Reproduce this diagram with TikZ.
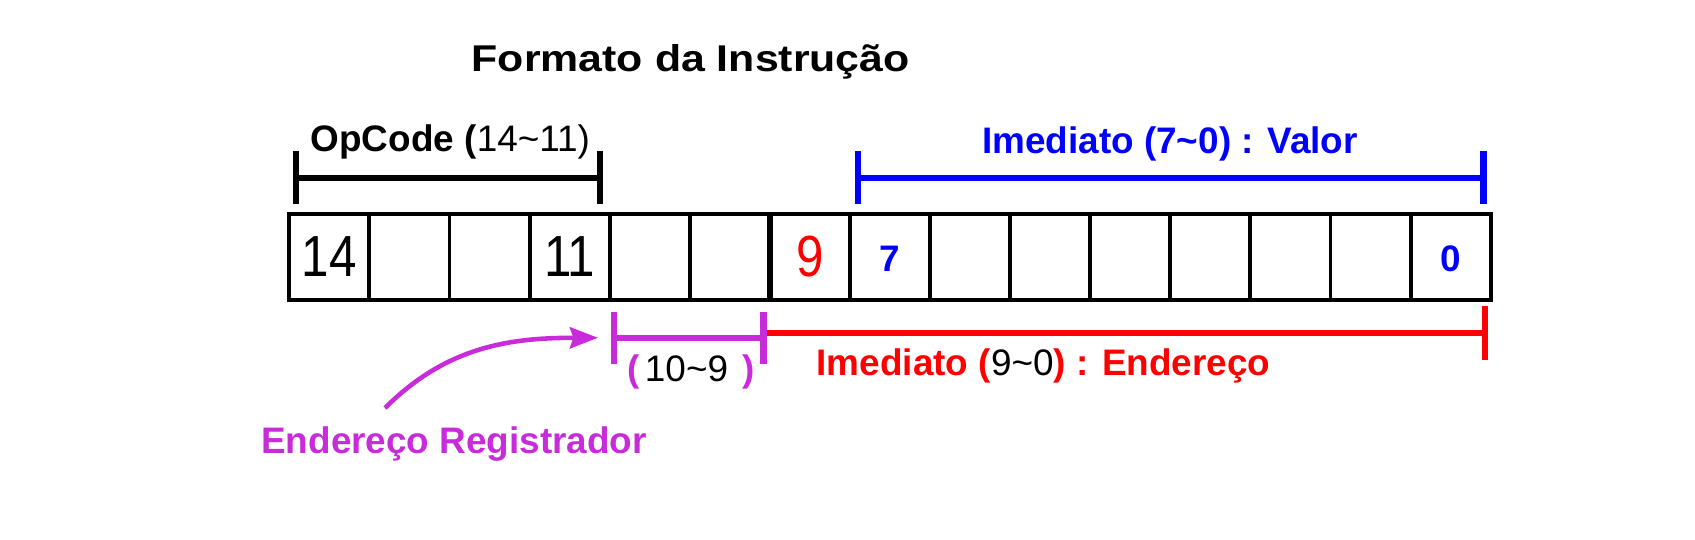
\documentclass[tikz,border=0pt]{standalone}
\usepackage{fontspec}
\setmainfont{Liberation Sans}
\newfontfamily\widesans[FakeStretch=1.15]{Liberation Sans}
\newfontfamily\narrowsans[FakeStretch=0.85]{Liberation Sans}
\usetikzlibrary{arrows.meta,positioning}
\definecolor{regmag}{RGB}{200,44,218}

\tikzset{
  bitcell/.style={draw, line width=1.1pt, minimum width=8.009mm, minimum height=8.6mm, inner sep=0pt, outer sep=0pt},
  bignum/.style={font=\narrowsans\fontsize{16.5}{18}\selectfont, inner sep=0pt},
  smallnum/.style={font=\bfseries\fontsize{10.5}{12}\selectfont, text=blue, inner sep=0pt},
  lbl/.style={font=\bfseries\fontsize{10.5}{12}\selectfont, inner sep=0pt},
  span/.style={line width=1.8pt, {Bar[width=#1]}-{Bar[width=#1]}},
  span/.default=5.3mm,
}

\begin{document}
\begin{tikzpicture}
\useasboundingbox (0,0) rectangle (16.95,5.39);

% title
\node[font=\widesans\bfseries\fontsize{10.6}{12}\selectfont, anchor=base, inner sep=0pt] (title) at (6.908,4.68) {Formato da Instrução};

% instruction word, 15 cells
\foreach \i in {1,...,15}
  \node[bitcell] (c\i) at ({2.893+(\i-0.5)*0.8009},2.82) {};
\draw[line width=1.6pt] (c6.north east) -- (c6.south east);

\node[bignum] (b14) at (c1) {14};
\node[bignum] (b11) at (c4) {11};
\node[bignum, text=red] (b9) at (c7) {9};
\node[smallnum] (b7) at ([yshift=-0.2mm]c8) {7};
\node[smallnum] (b0) at ([yshift=-0.2mm]c15) {0};

% spans
\coordinate (opL) at (2.927,3.612);
\coordinate (opR) at (6.033,3.612);
\coordinate (valL) at (8.546,3.612);
\coordinate (valR) at (14.867,3.612);
\coordinate (regL) at (6.11,2.012);
\coordinate (regR) at (7.667,2.012);
\coordinate (endR) at (14.883,2.057);

\draw[span] (opL) -- (opR);
\draw[span, blue] (valL) -- (valR);
\draw[line width=1.8pt, red, -{Bar[width=5.4mm]}] (regR |- endR) -- (endR);
\draw[span=5.2mm, regmag] (regL) -- (regR);

% labels
\node[lbl, anchor=base west] (oplbl) at (3.10,3.873) {OpCode (\mdseries 14\textasciitilde11)};
\node[lbl, anchor=base, text=blue] (vallbl) at (11.70,3.86) {Imediato (7\textasciitilde0) : Valor};
\node[lbl, anchor=base west, text=red] (endlbl) at (8.16,1.64) {Imediato ({\mdseries\color{black}9\textasciitilde0}) : Endereço};
\node[lbl, anchor=base west, text=regmag] (reglbl) at (6.267,1.573) {(\hspace{1.5pt}{\mdseries\color{black}10\textasciitilde9}\hspace{4pt})};
\node[lbl, anchor=base west, text=regmag] (regname) at (2.606,0.857) {Endereço Registrador};

% arrow
\coordinate (arrS) at (3.85,1.31);
\draw[regmag, line width=1.3pt, -{Stealth[length=8pt,width=6pt,inset=1pt]}] (arrS) to[out=45,in=180] ([xshift=-1.3mm]regL);
\end{tikzpicture}
\end{document}
